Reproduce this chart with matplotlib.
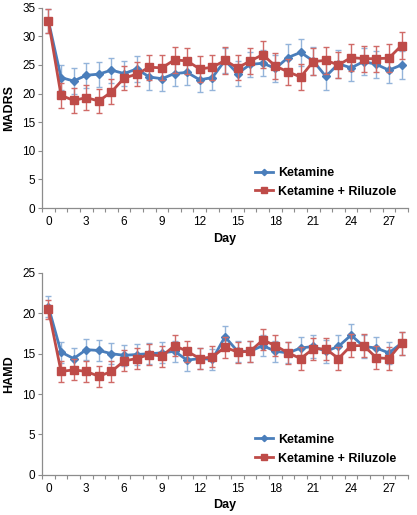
import numpy as np
import matplotlib.pyplot as plt

plt.rcParams['font.family'] = ['Liberation Sans', 'DejaVu Sans']

days = np.arange(0, 29)
tick_days = np.arange(0, 28, 3)

# MADRS scores
madrs_ket = [32.7, 22.8, 22.2, 23.2, 23.4, 24.1, 23.5, 24.3, 22.9, 22.6,
             23.5, 23.7, 22.4, 22.8, 25.8, 23.5, 25.1, 25.3, 24.4, 26.3,
             27.2, 25.7, 23.0, 25.2, 24.5, 25.6, 25.1, 24.1, 25.0]
madrs_ket_err = [2.1, 2.2, 2.2, 2.2, 2.2, 2.2, 2.2, 2.2, 2.2, 2.2,
                 2.2, 2.2, 2.2, 2.2, 2.2, 2.2, 2.2, 2.3, 2.3, 2.3,
                 2.4, 2.4, 2.4, 2.4, 2.3, 2.4, 2.4, 2.3, 2.4]
madrs_ril = [32.7, 19.7, 18.8, 19.3, 18.7, 20.3, 22.7, 23.4, 24.6, 24.5,
             25.9, 25.7, 24.3, 24.6, 25.8, 24.5, 25.7, 26.8, 24.8, 23.8,
             22.9, 25.6, 25.8, 25.0, 26.3, 26.1, 26.1, 26.2, 28.4]
madrs_ril_err = [2.1, 2.2, 2.2, 2.2, 2.1, 2.2, 2.1, 2.1, 2.2, 2.2,
                 2.3, 2.2, 2.2, 2.2, 2.3, 2.2, 2.3, 2.3, 2.3, 2.3,
                 2.3, 2.3, 2.3, 2.3, 2.3, 2.3, 2.3, 2.4, 2.4]

# HAMD scores
hamd_ket = [20.8, 15.2, 14.4, 15.5, 15.4, 15.0, 14.8, 14.9, 15.0, 15.1,
            15.3, 14.2, 14.4, 14.3, 17.1, 15.3, 15.3, 16.0, 15.3, 15.1,
            15.7, 15.9, 15.3, 15.9, 17.3, 15.9, 15.7, 15.1, 16.3]
hamd_ket_err = [1.3, 1.3, 1.3, 1.3, 1.3, 1.3, 1.3, 1.3, 1.3, 1.3,
                1.3, 1.3, 1.3, 1.3, 1.3, 1.3, 1.3, 1.3, 1.3, 1.3,
                1.4, 1.4, 1.4, 1.4, 1.4, 1.4, 1.4, 1.4, 1.4]
hamd_ril = [20.5, 12.8, 13.0, 12.8, 12.2, 12.8, 14.1, 14.4, 14.9, 14.7,
            16.0, 15.3, 14.4, 14.6, 15.8, 15.2, 15.3, 16.7, 16.0, 15.1,
            14.4, 15.6, 15.6, 14.4, 16.0, 16.0, 14.5, 14.4, 16.3]
hamd_ril_err = [1.2, 1.3, 1.3, 1.3, 1.3, 1.3, 1.3, 1.3, 1.3, 1.3,
                1.3, 1.3, 1.3, 1.3, 1.3, 1.3, 1.3, 1.3, 1.3, 1.4,
                1.4, 1.4, 1.4, 1.4, 1.4, 1.4, 1.4, 1.4, 1.4]

blue = '#4a7ebb'
blue_err = '#94b4da'
red = '#be4b48'
red_err = '#d06a67'
grey = '#8c8c8c'


def panel(ax, ket, ket_err, ril, ril_err, ymax, ylabel):
    c1 = ax.errorbar(days, ket, yerr=ket_err, color=blue, ecolor=blue_err,
                     elinewidth=1.0, capsize=2.5, capthick=1.0, lw=2,
                     marker='D', ms=4, label='Ketamine', zorder=2)
    c2 = ax.errorbar(days, ril, yerr=ril_err, color=red, ecolor=red_err,
                     elinewidth=1.0, capsize=2.5, capthick=1.0, lw=2,
                     marker='s', ms=5.5, label='Ketamine + Riluzole', zorder=3)
    ax.set_xlim(-0.5, 28.5)
    ax.set_ylim(0, ymax)
    ax.set_yticks(np.arange(0, ymax + 1, 5))
    ax.set_xticks(tick_days)
    ax.set_xticks(np.arange(-0.5, 29, 1), minor=True)
    ax.tick_params(axis='x', which='major', length=0, labelsize=8.5, pad=6)
    ax.tick_params(axis='x', which='minor', length=3, color=grey, width=0.8)
    ax.tick_params(axis='y', length=3, color=grey, width=0.8, labelsize=8.5, pad=2)
    for s in ['top', 'right']:
        ax.spines[s].set_visible(False)
    for s in ['left', 'bottom']:
        ax.spines[s].set_color(grey)
        ax.spines[s].set_linewidth(0.9)
    ax.set_xlabel('Day', fontsize=9, fontweight='bold', labelpad=3)
    ax.set_ylabel(ylabel, fontsize=9, fontweight='bold', labelpad=5)
    ax.legend(handles=[c1[0], c2[0]], labels=['Ketamine', 'Ketamine + Riluzole'],
              loc='lower right', bbox_to_anchor=(1.0, -0.005), frameon=False,
              prop={'size': 9, 'weight': 'bold'}, handlelength=1.45,
              handletextpad=0.45, labelspacing=0.55, markerscale=0.8)


fig = plt.figure(figsize=(4.17, 5.15), dpi=100)
ax1 = fig.add_axes([0.101, 0.596, 0.877, 0.389])
ax2 = fig.add_axes([0.101, 0.078, 0.877, 0.392])

panel(ax1, madrs_ket, madrs_ket_err, madrs_ril, madrs_ril_err, 35, 'MADRS')
panel(ax2, hamd_ket, hamd_ket_err, hamd_ril, hamd_ril_err, 25, 'HAMD')

fig.savefig('out.png', dpi=100)
